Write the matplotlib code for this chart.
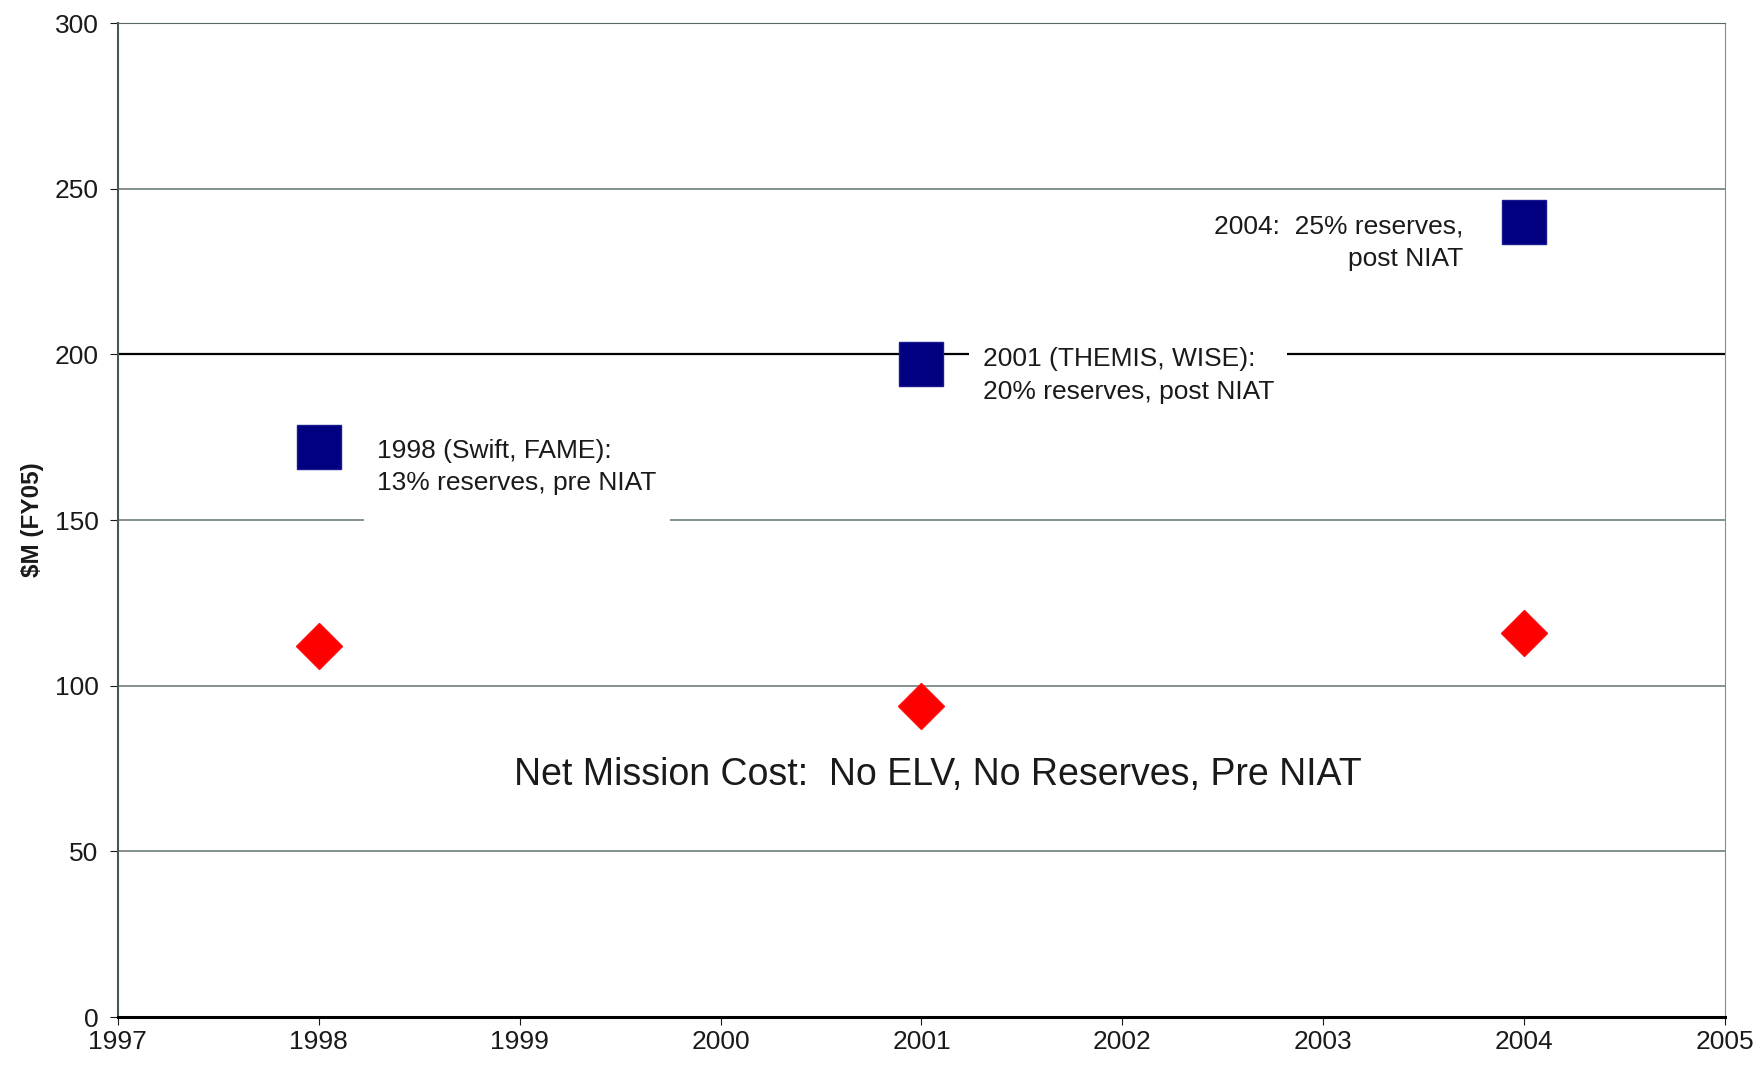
import matplotlib
matplotlib.use("Agg")
import matplotlib.pyplot as plt

plt.rcParams["font.family"] = ["Liberation Sans", "DejaVu Sans"]

years = [1998, 2001, 2004]
total_cost = [172, 197, 240]
net_cost = [112, 94, 116]
point_labels = [
    "1998 (Swift, FAME):\n13% reserves, pre NIAT\n",
    "2001 (THEMIS, WISE):\n20% reserves, post NIAT",
    "2004:  25% reserves,\npost NIAT",
]
note = "Net Mission Cost:  No ELV, No Reserves, Pre NIAT"
x_ticks = list(range(1997, 2006))
y_ticks = [0, 50, 100, 150, 200, 250, 300]

fig = plt.figure(figsize=(17.6, 10.69), dpi=100)
ax = fig.add_axes([0.067, 0.0486, 0.9131, 0.9298])

ax.set_xlim(1997, 2005)
ax.set_ylim(0, 300)
ax.set_xticks(x_ticks)
ax.set_yticks(y_ticks)
ax.tick_params(labelsize=19, colors="#1a1a1a", length=6, direction="out")
ax.tick_params(axis="y", pad=8)
ax.tick_params(axis="x", pad=3)

ax.yaxis.grid(True, color="#6f7f7f", linewidth=1.2)
ax.set_axisbelow(True)
# the 200 line is drawn darker in the original
ax.get_ygridlines()[4].set_color("black")
ax.get_ygridlines()[4].set_linewidth(1.6)

ax.spines["left"].set_color("#4a5656")
ax.spines["top"].set_color("#5a6666")
ax.spines["right"].set_color("#8a8a8a")
ax.spines["bottom"].set_color("black")
ax.spines["bottom"].set_linewidth(2.2)
ax.spines["left"].set_linewidth(1.5)

ax.set_ylabel("$M (FY05)", fontsize=17.5, fontweight="bold", color="#1a1a1a")
ax.yaxis.set_label_coords(-0.046, 0.5)

ax.plot(years, total_cost, linestyle="none", marker="s", markersize=31,
        color="#000080", markeredgecolor="#1a1a90", zorder=4)
ax.plot(years, net_cost, linestyle="none", marker="D", markersize=23,
        color="#ff0000", markeredgecolor="#ff1010", zorder=4)

offsets = [(42, -26), (44, -8), (-44, -15)]
aligns = ["left", "left", "right"]
for x, y, txt, off, ha in zip(years, total_cost, point_labels, offsets, aligns):
    ax.annotate(txt, (x, y), xytext=off, textcoords="offset points",
                ha=ha, va="center", multialignment=ha, fontsize=19,
                linespacing=1.45, color="#1a1a1a", zorder=3,
                bbox=dict(boxstyle="square,pad=0.5", facecolor="white",
                          edgecolor="none"))

ax.text(2001.08, 73, note, ha="center", va="center", fontsize=27,
        color="#1a1a1a")

plt.savefig("out.png", dpi=100)
